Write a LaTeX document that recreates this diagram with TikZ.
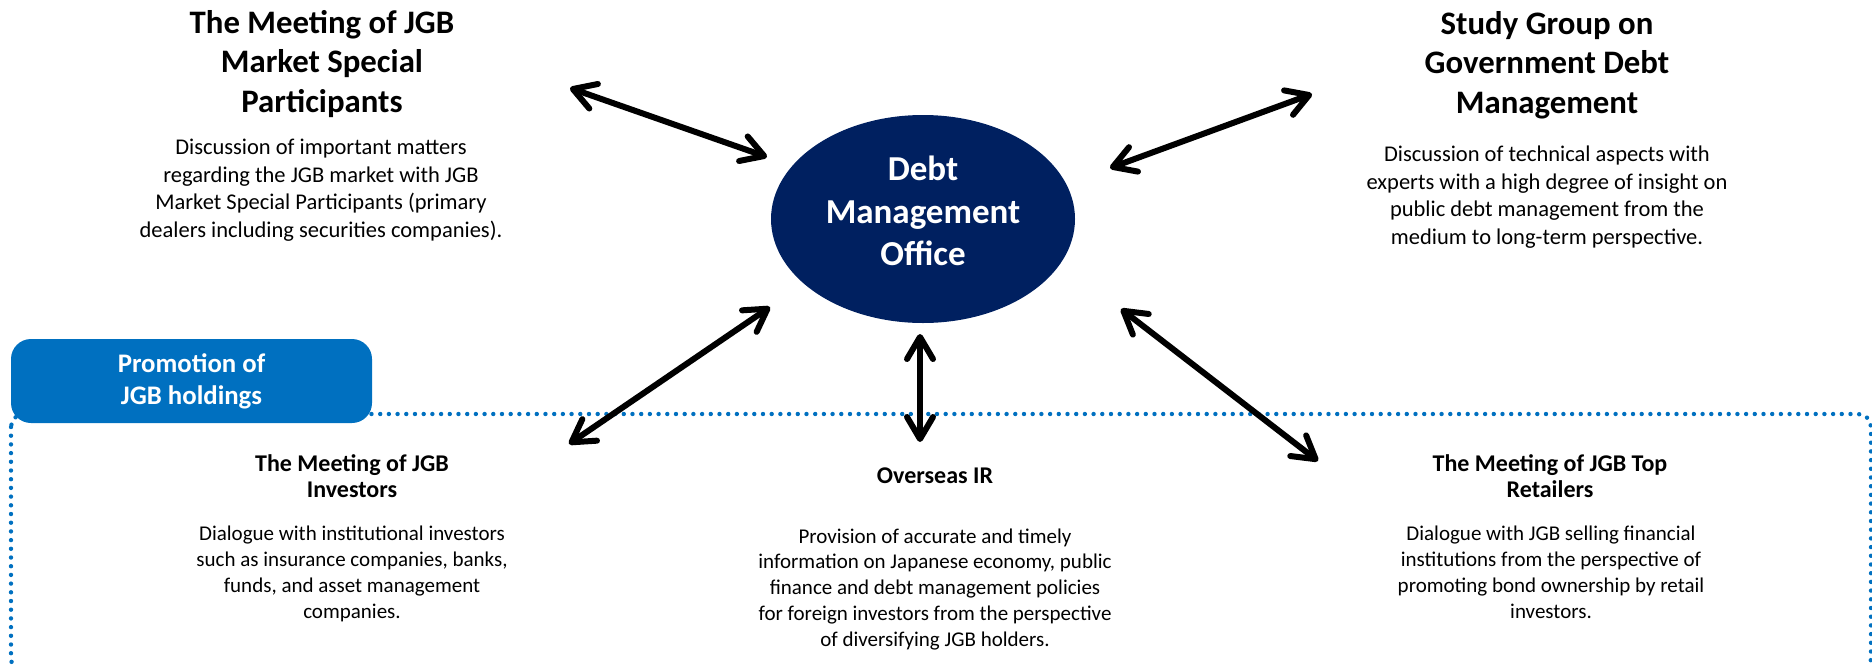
\documentclass[tikz,border=0pt]{standalone}
\usepackage{fontspec}
\setmainfont{Carlito}
\usetikzlibrary{shapes.geometric,arrows.meta}
\definecolor{dmonavy}{RGB}{0,32,96}
\definecolor{promoblue}{RGB}{0,112,192}
\tikzset{
  bigtitle/.style={align=center, anchor=base, inner sep=0pt, font=\fontsize{16.4}{19.75}\selectfont\bfseries},
  bigtext/.style={align=center, anchor=base, inner sep=0pt, font=\fontsize{11.25}{13.7}\selectfont},
  subtitle/.style={align=center, anchor=base, inner sep=0pt, font=\fontsize{12}{13}\selectfont\bfseries},
  subtext/.style={align=center, anchor=base, inner sep=0pt, font=\fontsize{10.5}{12.85}\selectfont},
  link/.style={line width=3pt, {Straight Barb[length=11pt,width=13pt,round]}-{Straight Barb[length=11pt,width=13pt,round]}},
  dotline/.style={promoblue, line width=2.2pt, line cap=round, dash pattern=on 0pt off 4.35pt, rounded corners=6.5pt}
}
\begin{document}
\begin{tikzpicture}[x=0.5pt, y=-0.5pt]
            \useasboundingbox (0,0) rectangle (1872,664);
            \draw[dotline] (11,414) rectangle (1871,672);
            \node[fill=promoblue, rounded corners=10pt, minimum width=180.5pt, minimum height=42pt, inner sep=0pt, text=white, align=center, font=\fontsize{13.4}{16}\selectfont\bfseries] (promo) at (191.5,381) {Promotion of\\JGB holdings};
            \node[ellipse, fill=dmonavy, minimum width=152pt, minimum height=104pt, inner sep=0pt] (dmo) at (923,219) {};
            \node[text=white, align=center, inner sep=0pt, font=\fontsize{17.5}{21.25}\selectfont\bfseries] (dmo-label) at (923,211) {Debt\\Management\\Office};
            \node[bigtitle] (sp-title) at (322,112) {The Meeting of JGB\\Market Special\\Participants};
            \node[bigtext] (sp-text) at (321,237) {Discussion of important matters\\regarding the JGB market with JGB\\Market Special Participants (primary\\dealers including securities companies).};
            \node[bigtitle] (sg-title) at (1547,113) {Study Group on\\Government Debt\\Management};
            \node[bigtext] (sg-text) at (1547,244) {Discussion of technical aspects with\\experts with a high degree of insight on\\public debt management from the\\medium to long-term perspective.};
            \node[subtitle] (inv-title) at (352,497) {The Meeting of JGB\\Investors};
            \node[subtext] (inv-text) at (352,618) {Dialogue with institutional investors\\such as insurance companies, banks,\\funds, and asset management\\companies.};
            \node[subtitle] (ir-title) at (935,483) {Overseas IR};
            \node[subtext] (ir-text) at (935,646) {Provision of accurate and timely\\information on Japanese economy, public\\finance and debt management policies\\for foreign investors from the perspective\\of diversifying JGB holders.};
            \node[subtitle] (ret-title) at (1550,497) {The Meeting of JGB Top\\Retailers};
            \node[subtext] (ret-text) at (1551,618) {Dialogue with JGB selling financial\\institutions from the perspective of\\promoting bond ownership by retail\\investors.};
            \coordinate (sp-end) at (570,88);
            \coordinate (dmo-nw) at (767,157);
            \coordinate (sg-end) at (1312,94);
            \coordinate (dmo-ne) at (1110,168);
            \coordinate (inv-end) at (569,444);
            \coordinate (dmo-sw) at (770,307);
            \coordinate (ir-end) at (920,442);
            \coordinate (dmo-s) at (920,334);
            \coordinate (ret-end) at (1318,461);
            \coordinate (dmo-se) at (1121,309);
            \draw[link] (sp-end) -- (dmo-nw);
            \draw[link] (sg-end) -- (dmo-ne);
            \draw[link] (inv-end) -- (dmo-sw);
            \draw[link] (ir-end) -- (dmo-s);
            \draw[link] (ret-end) -- (dmo-se);
        \end{tikzpicture}
\end{document}
